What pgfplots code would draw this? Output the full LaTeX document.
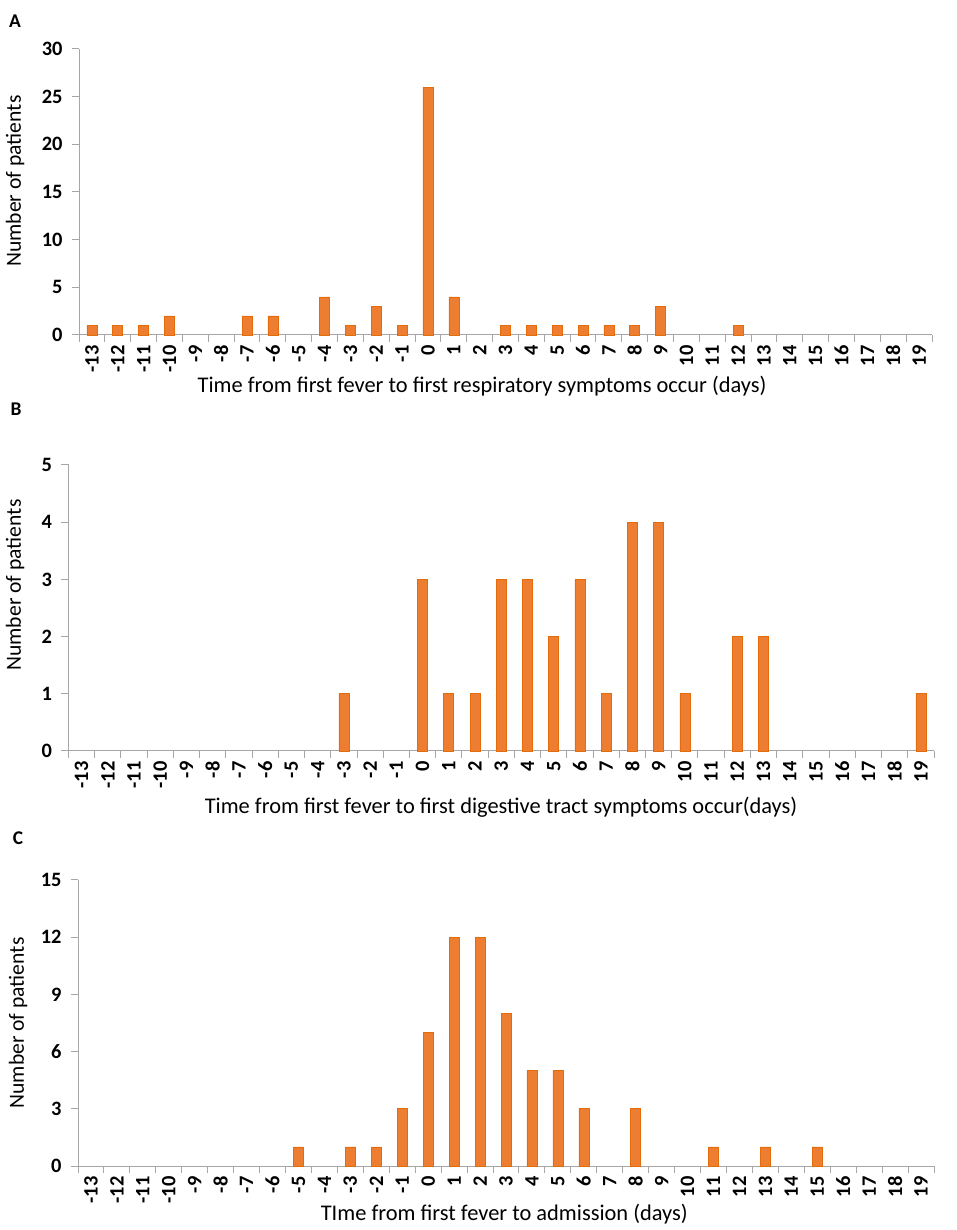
\documentclass[border=0pt]{standalone}
\usepackage{fontspec}
\setmainfont{Carlito}
\usepackage{pgfplots}
\pgfplotsset{compat=1.18}
\definecolor{barO}{HTML}{ED7D31}
\definecolor{barE}{HTML}{E46C0A}
\definecolor{axg}{HTML}{A6A6A6}
\pgfplotsset{panel/.style={
  scale only axis, height=286bp, anchor=south west,
  axis lines*=left,
  axis line style={axg, line width=1bp},
  xmin=-13.5, xmax=19.5, ymin=0,
  xtick={-13,...,19},
  minor xtick={-13.5,-12.5,...,19.5},
  major x tick style={draw=none},
  minor x tick style={axg, line width=1bp},
  ytick style={axg, line width=1bp},
  tick align=outside,
  major tick length=7bp, minor tick length=7bp,
  /pgf/number format/assume math mode=true,
  tick label style={font=\fontsize{20.5}{22}\selectfont\bfseries, text=black},
  x tick label style={rotate=90, anchor=east},
  y tick label style={xshift=-6bp},
  ybar, bar width=10bp,
  ylabel style={anchor=center, rotate=0, font=\fontsize{21.7}{24}\selectfont},
  xlabel style={anchor=center, font=\fontsize{22.5}{24}\selectfont},
  clip=false,
}}
\begin{document}
\begin{tikzpicture}
\path[use as bounding box] (0,0) rectangle (957bp,1230bp);
% Panel A
\node[font=\fontsize{19.5}{20}\selectfont\bfseries] at (15bp,1209bp) {A};
\begin{axis}[panel, at={(79bp,895bp)}, width=853bp, ymax=30, ytick={0,5,...,30},
  ylabel={Number of patients}, ylabel style={at={(axis description cs:-0.075,0.538)}},
  xlabel={Time from first fever to first respiratory symptoms occur (days)},
  xlabel style={at={(axis description cs:0.4725,-0.178)}}]
\addplot[fill=barO, draw=barE, line width=0.6bp] coordinates {
(-13,1) (-12,1) (-11,1) (-10,2) (-7,2) (-6,2) (-4,4) (-3,1) (-2,3) (-1,1)
(0,26) (1,4) (3,1) (4,1) (5,1) (6,1) (7,1) (8,1) (9,3) (12,1)};
\end{axis}
% Panel B
\node[font=\fontsize{19.5}{20}\selectfont\bfseries] at (16bp,821bp) {B};
\begin{axis}[panel, at={(68.5bp,479bp)}, width=865.5bp, ymax=5, ytick={0,...,5},
  ylabel={Number of patients}, ylabel style={at={(axis description cs:-0.0618,0.58)}},
  xlabel={Time from first fever to first digestive tract symptoms occur(days)},
  xlabel style={at={(axis description cs:0.4997,-0.196)}}]
\addplot[fill=barO, draw=barE, line width=0.6bp] coordinates {
(-3,1) (0,3) (1,1) (2,1) (3,3) (4,3) (5,2) (6,3) (7,1) (8,4) (9,4) (10,1)
(12,2) (13,2) (19,1)};
\end{axis}
% Panel C
\node[font=\fontsize{19.5}{20}\selectfont\bfseries] at (18bp,392bp) {C};
\begin{axis}[panel, at={(78bp,64bp)}, width=856bp, ymax=15, ytick={0,3,...,15},
  ylabel={Number of patients}, ylabel style={at={(axis description cs:-0.070,0.5)}},
  xlabel={TIme from first fever to admission (days)},
  xlabel style={at={(axis description cs:0.498,-0.168)}}]
\addplot[fill=barO, draw=barE, line width=0.6bp] coordinates {
(-5,1) (-3,1) (-2,1) (-1,3) (0,7) (1,12) (2,12) (3,8) (4,5) (5,5) (6,3)
(8,3) (11,1) (13,1) (15,1)};
\end{axis}
\end{tikzpicture}
\end{document}
